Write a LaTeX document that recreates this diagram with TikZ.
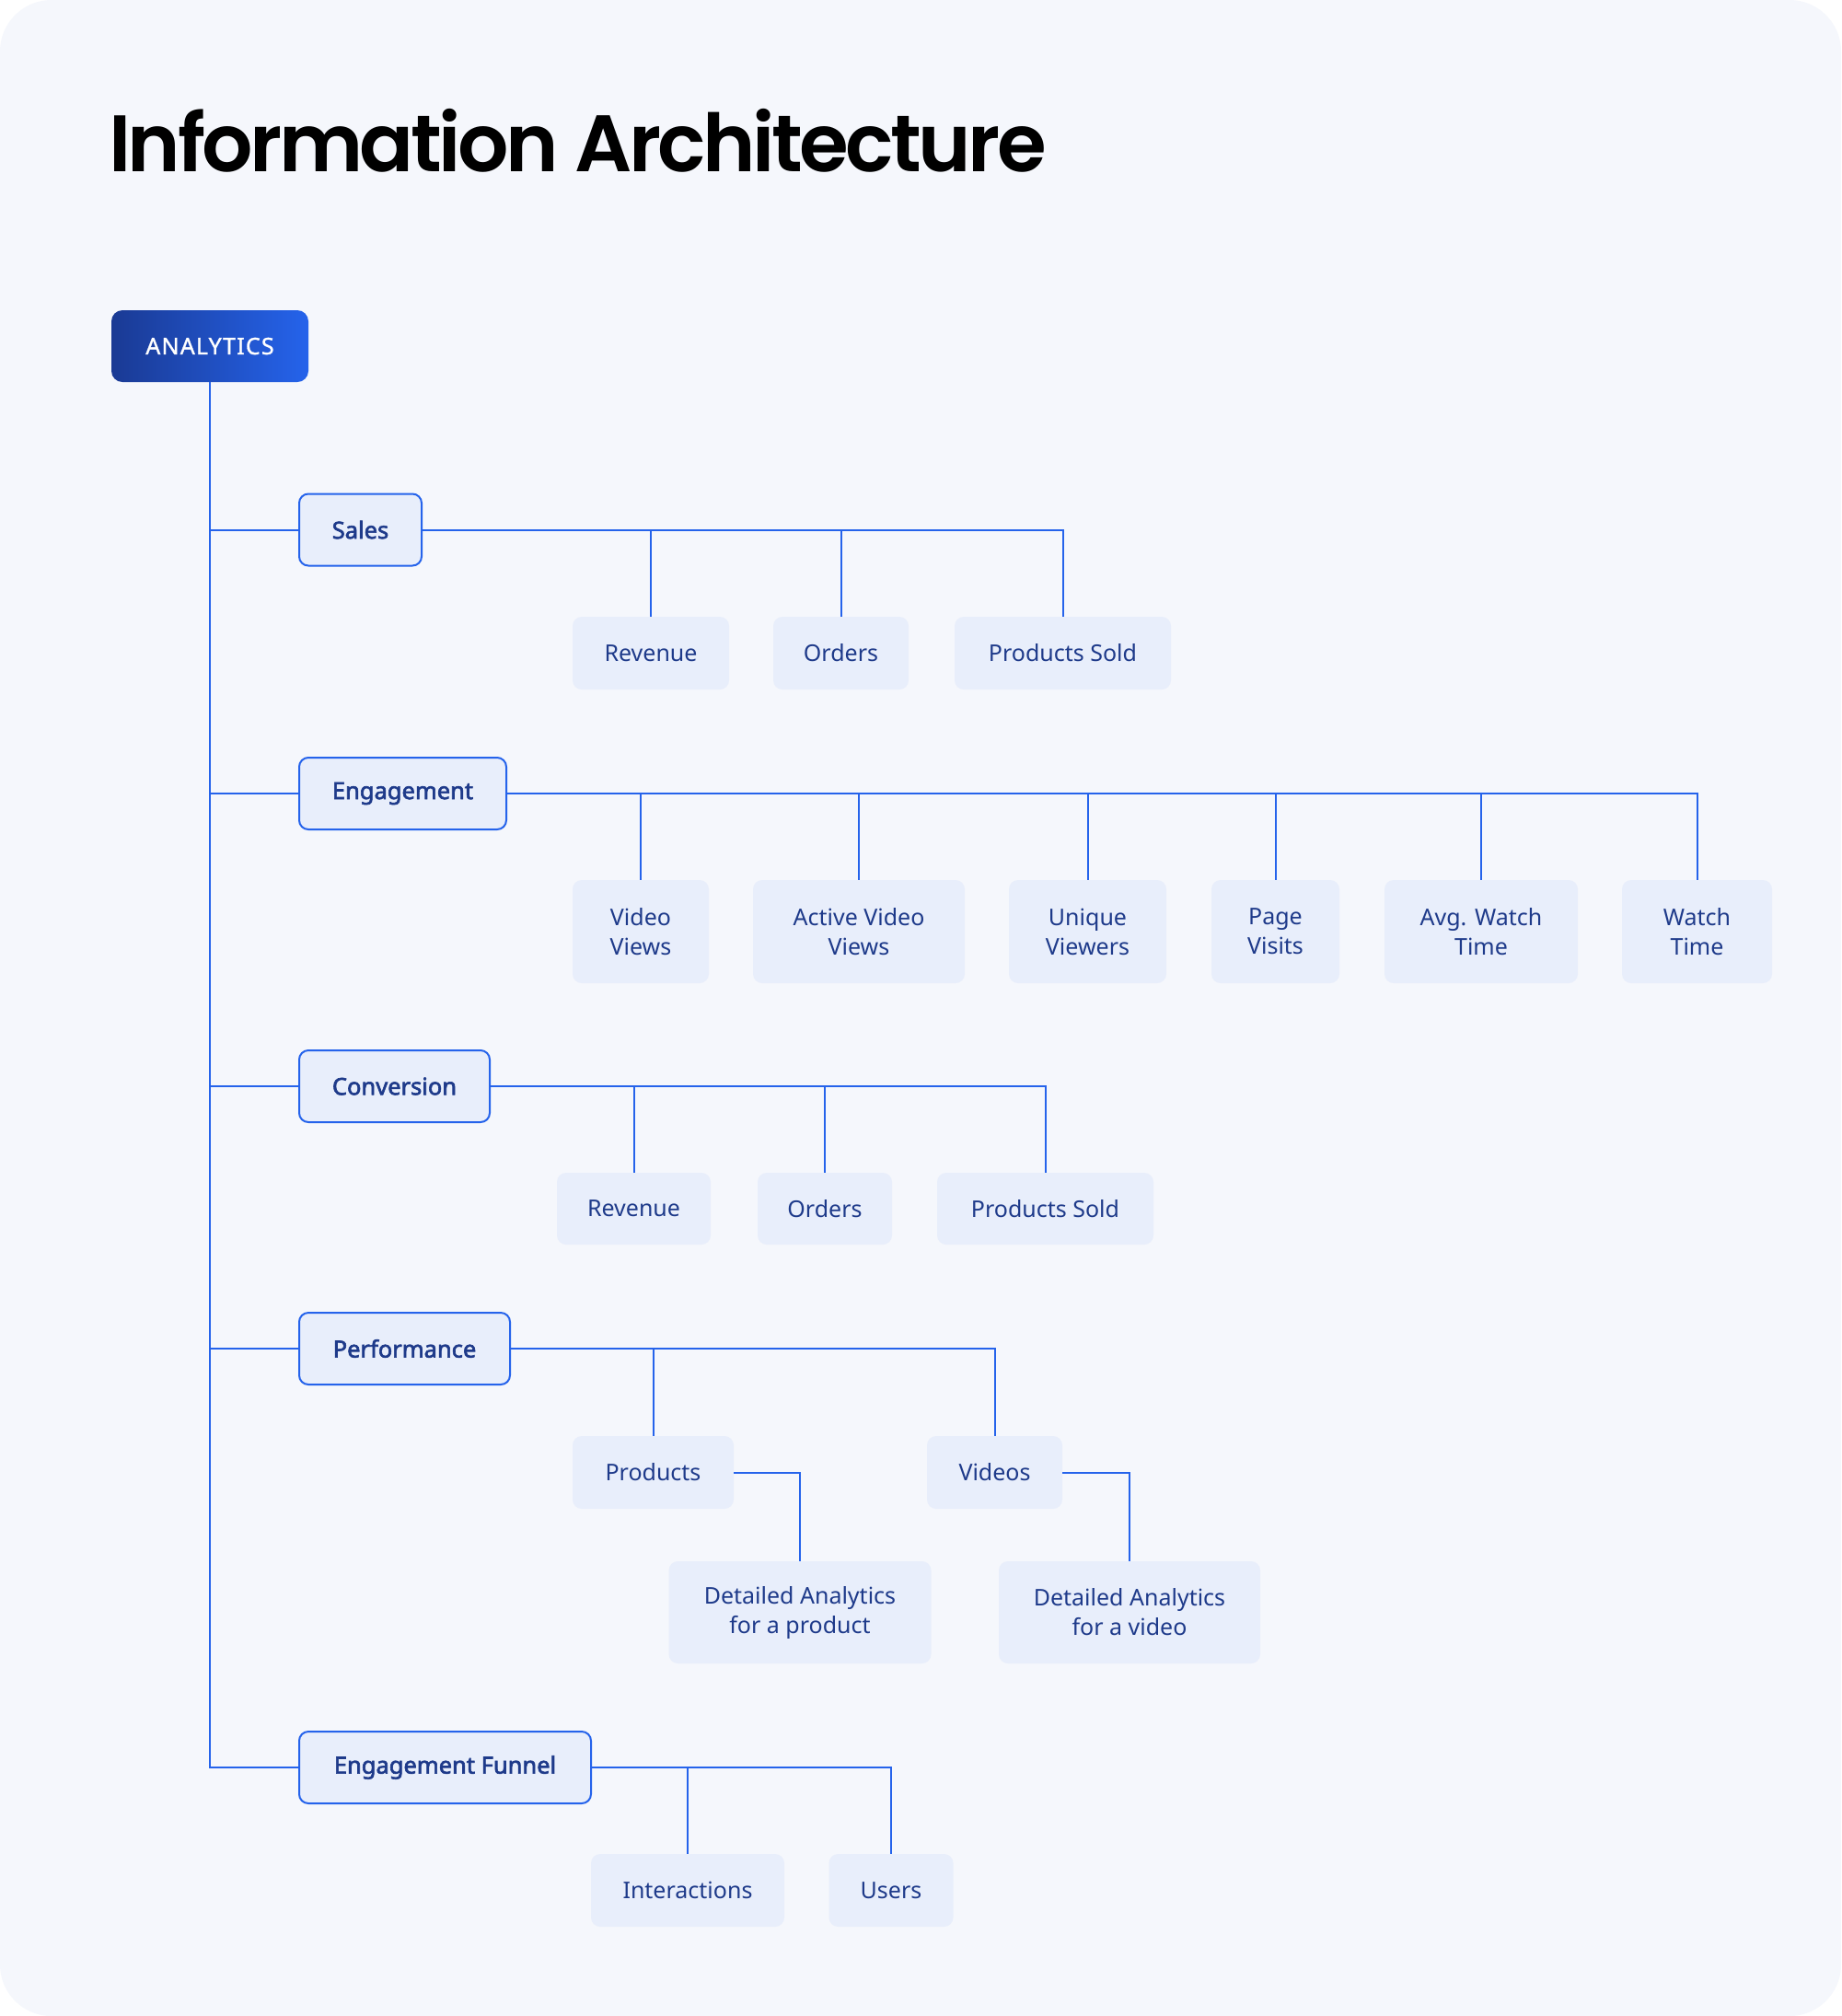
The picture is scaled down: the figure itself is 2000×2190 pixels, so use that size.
\documentclass[tikz,border=0pt]{standalone}
\usepackage{fontspec}
\setmainfont{Noto Sans}
\newfontfamily\titlefont{Poppins}[BoldFont={* SemiBold}, LetterSpace=-4]
\newfontfamily\catfont{Noto Sans}[FakeBold=2.4]
\newfontfamily\rootfont{Noto Sans}[FakeBold=1.2, LetterSpace=5]
\usetikzlibrary{calc}
\definecolor{bgc}{HTML}{F5F7FC}
\definecolor{navy}{HTML}{1E3A8A}
\definecolor{navyd}{HTML}{1A3A94}
\definecolor{bluel}{HTML}{2563EB}
\definecolor{boxf}{HTML}{E8EEFB}
\tikzset{
  rootbox/.style={rounded corners=12pt, left color=navyd, right color=bluel, text=white,
    minimum width=214pt, minimum height=78pt, inner sep=0pt,
    font=\rootfont\fontsize{25}{30}\selectfont},
  catbox/.style={draw=bluel, line width=2pt, fill=boxf, rounded corners=10pt, text=navy,
    minimum height=78pt, inner sep=0pt, anchor=west,
    font=\catfont\fontsize{25.5}{30}\selectfont},
  leafbox/.style={fill=boxf, rounded corners=10pt, text=navy, inner sep=0pt, align=center,
    font=\fontsize{25}{32}\selectfont},
  conn/.style={draw=bluel, line width=2pt},
}
\begin{document}
\begin{tikzpicture}[x=1pt,y=-1pt]
\fill[white] (0,0) rectangle (2000,2190);
\useasboundingbox (0,0) rectangle (2000,2190);
\fill[bgc, rounded corners=56pt] (0,0) rectangle (2000,2190);

\node[anchor=base west, inner sep=0pt, font=\titlefont\bfseries\fontsize{87}{100}\selectfont] (title) at (118,186) {Information Architecture};

\node[rootbox] (an) at (228,376) {ANALYTICS};

\node[catbox, minimum width=133pt] (sales) at (324,575.5) {Sales};
\node[catbox, minimum width=225pt] (eng) at (324,862) {Engagement};
\node[catbox, minimum width=207pt] (conv) at (324,1180) {Conversion};
\node[catbox, minimum width=229pt] (perf) at (324,1465) {Performance};
\node[catbox, minimum width=317pt] (fun) at (324,1920) {Engagement Funnel};

% Sales children
\node[leafbox, minimum width=170pt, minimum height=79pt] (srev) at (707,709.5) {Revenue};
\node[leafbox, minimum width=147pt, minimum height=79pt] (sord) at (913.5,709.5) {Orders};
\node[leafbox, minimum width=235pt, minimum height=79pt] (sps) at (1154.5,709.5) {Products Sold};

% Engagement children
\node[leafbox, minimum width=148pt, minimum height=112pt] (vv) at (696,1012) {Video\\Views};
\node[leafbox, minimum width=230pt, minimum height=112pt] (avv) at (933,1012) {Active Video\\Views};
\node[leafbox, minimum width=171pt, minimum height=112pt] (uv) at (1181.5,1012) {Unique\\Viewers};
\node[leafbox, minimum width=139pt, minimum height=112pt] (pv) at (1385.5,1012) {Page\\Visits};
\node[leafbox, minimum width=210pt, minimum height=112pt] (awt) at (1609,1012) {Avg. Watch\\Time};
\node[leafbox, minimum width=163pt, minimum height=112pt] (wt) at (1843.5,1012) {Watch\\Time};

% Conversion children
\node[leafbox, minimum width=167pt, minimum height=78pt] (crev) at (688.5,1313) {Revenue};
\node[leafbox, minimum width=146pt, minimum height=78pt] (cord) at (896,1313) {Orders};
\node[leafbox, minimum width=235pt, minimum height=78pt] (cps) at (1135.5,1313) {Products Sold};

% Performance children
\node[leafbox, minimum width=175pt, minimum height=79pt] (prod) at (709.5,1599.5) {Products};
\node[leafbox, minimum width=147pt, minimum height=79pt] (vid) at (1080.5,1599.5) {Videos};
\node[leafbox, minimum width=285pt, minimum height=111pt] (dap) at (869,1751.5) {Detailed Analytics\\for a product};
\node[leafbox, minimum width=284pt, minimum height=111pt] (dav) at (1227,1751.5) {Detailed Analytics\\for a video};

% Funnel children
\node[leafbox, minimum width=210pt, minimum height=79pt] (inter) at (747,2053.5) {Interactions};
\node[leafbox, minimum width=135pt, minimum height=79pt] (users) at (968,2053.5) {Users};

% trunk
\draw[conn] (an.south) |- (fun.west);
\foreach \c in {sales,eng,conv,perf}
  \draw[conn] (an.south |- \c.west) -- (\c.west);

% sales
\draw[conn] (sales.east) -| (sps.north);
\foreach \c in {srev,sord}
  \draw[conn] (\c.north) -- (\c.north |- sales.east);
% engagement
\draw[conn] (eng.east) -| (wt.north);
\foreach \c in {vv,avv,uv,pv,awt}
  \draw[conn] (\c.north) -- (\c.north |- eng.east);
% conversion
\draw[conn] (conv.east) -| (cps.north);
\foreach \c in {crev,cord}
  \draw[conn] (\c.north) -- (\c.north |- conv.east);
% performance
\draw[conn] (perf.east) -| (vid.north);
\draw[conn] (prod.north) -- (prod.north |- perf.east);
\draw[conn] (prod.east) -| (dap.north);
\draw[conn] (vid.east) -| (dav.north);
% funnel
\draw[conn] (fun.east) -| (users.north);
\draw[conn] (inter.north) -- (inter.north |- fun.east);
\end{tikzpicture}
\end{document}
